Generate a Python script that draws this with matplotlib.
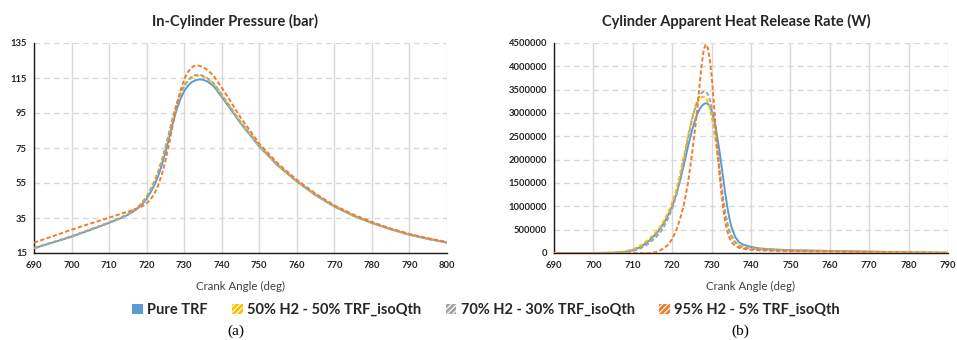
import matplotlib
matplotlib.use("Agg")
import matplotlib.pyplot as plt
from matplotlib.patches import Patch
from matplotlib.ticker import FuncFormatter

plt.rcParams['font.family'] = ['Lato', 'DejaVu Sans']
plt.rcParams['hatch.linewidth'] = 0.8

# ---------------- data ----------------
series_names = ["Pure TRF", "50% H2 - 50% TRF_isoQth",
                "70% H2 - 30% TRF_isoQth", "95% H2 - 5% TRF_isoQth"]
series_colors = ["#5B9BD5", "#FFC000", "#A5A5A5", "#ED7D31"]

# (a) in-cylinder pressure (bar)
p_angle = [690, 695, 700, 705, 710, 713, 715, 717, 718, 719, 720, 721, 722, 723, 724,
           725, 726, 727, 728, 729, 730, 731, 732, 733, 734, 735, 736, 737, 738, 740,
           742, 745, 750, 755, 760, 765, 770, 775, 780, 785, 790, 795, 800]
p_pure = [17.7, 21.0, 24.3, 28.2, 32.2, 34.8, 36.8, 39.5, 41.2, 43.3, 46.0, 49.5, 53.5, 58.5, 65.0,
          72.5, 81.0, 89.5, 97.0, 103.0, 107.5, 110.6, 112.6, 113.7, 114.2, 114.0, 113.2, 111.8, 110.0, 104.2,
          98.3, 89.2, 75.8, 64.8, 55.8, 48.0, 41.5, 36.3, 32.1, 28.5, 25.4, 23.0, 20.9]
p_h50 = [17.9, 21.2, 24.6, 28.5, 32.5, 35.2, 37.3, 40.2, 42.2, 44.6, 47.6, 51.5, 56.0, 61.5, 68.0,
         75.5, 84.0, 92.5, 100.0, 105.8, 110.2, 113.3, 115.2, 116.2, 116.3, 115.8, 114.8, 113.2, 111.2, 105.2,
         99.2, 89.8, 76.2, 65.1, 56.0, 48.2, 41.6, 36.4, 32.2, 28.6, 25.5, 23.1, 21.0]
p_h70 = [17.8, 21.1, 24.5, 28.4, 32.4, 35.0, 37.0, 39.8, 41.6, 43.9, 46.8, 50.6, 55.0, 60.5, 67.2,
         75.0, 83.8, 92.5, 100.2, 106.2, 110.7, 113.8, 115.8, 116.7, 116.8, 116.3, 115.2, 113.6, 111.6, 105.5,
         99.4, 90.0, 76.3, 65.2, 56.1, 48.3, 41.7, 36.5, 32.3, 28.7, 25.6, 23.1, 21.0]
p_h95 = [20.9, 24.6, 28.3, 31.8, 35.2, 37.3, 38.6, 40.1, 40.9, 41.9, 43.4, 45.5, 48.6, 53.2, 59.5,
         67.5, 77.5, 88.5, 99.5, 107.8, 114.2, 118.5, 121.1, 122.2, 122.0, 121.2, 119.8, 118.0, 115.8, 109.5,
         102.8, 92.5, 77.5, 66.0, 56.8, 48.9, 42.2, 37.0, 32.7, 29.0, 25.9, 23.4, 21.3]

# (b) apparent heat release rate (W)
h_angle = [690, 700, 705, 708, 710, 712, 714, 716, 717, 718, 719, 720, 721, 722, 723, 724, 725, 726,
           726.5, 727, 727.5, 728, 728.5, 729, 729.5, 730, 730.5, 731, 731.5, 732, 732.5, 733,
           733.5, 734, 734.5, 735, 736, 737, 738, 740, 742, 745, 750, 755, 760, 770, 780, 790]
h_pure = [0, 0, 5e3, 2.5e4, 6e4, 1.3e5, 2.5e5, 4.2e5, 5.3e5, 6.6e5, 8.2e5, 1.0e6, 1.25e6, 1.55e6, 1.9e6, 2.28e6, 2.62e6, 2.9e6,
          3.0e6, 3.09e6, 3.15e6, 3.19e6, 3.21e6, 3.2e6, 3.15e6, 3.05e6, 2.9e6, 2.7e6, 2.45e6, 2.18e6, 1.88e6, 1.57e6,
          1.26e6, 0.98e6, 0.75e6, 0.57e6, 0.34e6, 0.23e6, 0.18e6, 0.13e6, 0.10e6, 0.08e6, 0.06e6, 0.052e6, 0.045e6, 0.03e6, 0.015e6, 0.006e6]
h_h50 = [0, 0, 8e3, 3.5e4, 8e4, 1.6e5, 2.9e5, 4.6e5, 5.7e5, 7.1e5, 8.8e5, 1.08e6, 1.35e6, 1.7e6, 2.1e6, 2.5e6, 2.88e6, 3.15e6,
         3.24e6, 3.3e6, 3.34e6, 3.35e6, 3.32e6, 3.24e6, 3.1e6, 2.92e6, 2.68e6, 2.4e6, 2.08e6, 1.75e6, 1.42e6, 1.12e6,
         0.86e6, 0.65e6, 0.49e6, 0.38e6, 0.24e6, 0.17e6, 0.13e6, 0.10e6, 0.085e6, 0.07e6, 0.055e6, 0.048e6, 0.042e6, 0.028e6, 0.014e6, 0.005e6]
h_h70 = [0, 0, 3e3, 1.5e4, 4e4, 1e5, 2e5, 3.5e5, 4.5e5, 5.8e5, 7.5e5, 9.5e5, 1.22e6, 1.58e6, 2.0e6, 2.45e6, 2.85e6, 3.17e6,
         3.29e6, 3.38e6, 3.43e6, 3.46e6, 3.46e6, 3.41e6, 3.3e6, 3.12e6, 2.86e6, 2.55e6, 2.2e6, 1.82e6, 1.45e6, 1.12e6,
         0.84e6, 0.62e6, 0.46e6, 0.35e6, 0.22e6, 0.15e6, 0.12e6, 0.09e6, 0.075e6, 0.065e6, 0.052e6, 0.046e6, 0.04e6, 0.027e6, 0.013e6, 0.005e6]
h_h95 = [0, 0, 0, 0, 0, 0, 0, 2e4, 6e4, 1.1e5, 1.8e5, 3e5, 4.8e5, 7.3e5, 1.05e6, 1.5e6, 2.1e6, 2.8e6,
         3.2e6, 3.65e6, 4.05e6, 4.35e6, 4.47e6, 4.4e6, 4.17e6, 3.8e6, 3.3e6, 2.75e6, 2.2e6, 1.7e6, 1.27e6, 0.92e6,
         0.65e6, 0.46e6, 0.33e6, 0.24e6, 0.15e6, 0.11e6, 0.09e6, 0.07e6, 0.06e6, 0.05e6, 0.04e6, 0.035e6, 0.03e6, 0.02e6, 0.01e6, 0.004e6]

p_xticks = list(range(690, 801, 10))
p_yticks = list(range(15, 136, 20))
h_xticks = list(range(690, 791, 10))
h_yticks = list(range(0, 4500001, 500000))

titles = ["In-Cylinder Pressure (bar)", "Cylinder Apparent Heat Release Rate (W)"]
xlabel = "Crank Angle (deg)"
panel_labels = ["(a)", "(b)"]

# ---------------- figure ----------------
W, H = 957, 340
fig = plt.figure(figsize=(W / 100, H / 100), dpi=100)

def px_axes(x0, x1, y0, y1):
    return fig.add_axes([x0 / W, 1 - y1 / H, (x1 - x0) / W, (y1 - y0) / H])

ax1 = px_axes(34, 447, 43, 253)
ax2 = px_axes(554, 948, 43, 253)

grid_c = "#D9D9D9"
lw = 1.4
dash = (0, (2.2, 1.2))

def style(ax, xt, yt, title, title_x):
    ax.set_xlim(xt[0], xt[-1])
    ax.set_ylim(yt[0], yt[-1])
    ax.set_xticks(xt)
    ax.set_yticks(yt)
    ax.xaxis.grid(True, color=grid_c, lw=1.0, ls='-')
    ax.yaxis.grid(True, color=grid_c, lw=1.0, ls=(0, (4, 3)))
    ax.set_axisbelow(True)
    for s in ['top', 'right']:
        ax.spines[s].set_visible(False)
    for s in ['left', 'bottom']:
        ax.spines[s].set_color('#1a1a1a')
        ax.spines[s].set_linewidth(1.0)
    ax.tick_params(length=0, labelsize=6.8, colors='#262626')
    ax.tick_params(axis='y', pad=5)
    ax.tick_params(axis='x', pad=6)
    ax.set_xlabel(xlabel, fontsize=8.3, color='#404040', labelpad=8)
    ax.set_title(title, fontsize=10.5, fontweight='bold', color='#262626', pad=12, x=title_x)

p_series = [p_pure, p_h50, p_h70, p_h95]
h_series = [h_pure, h_h50, h_h70, h_h95]
for i, (ys, c) in enumerate(zip(p_series, series_colors)):
    ax1.plot(p_angle, ys, color=c, lw=lw, ls='-' if i == 0 else dash, zorder=3 + i)
for i, (ys, c) in enumerate(zip(h_series, series_colors)):
    ax2.plot(h_angle, ys, color=c, lw=lw, ls='-' if i == 0 else dash, zorder=3 + i)

style(ax1, p_xticks, p_yticks, titles[0], (235 - 34) / 413)
style(ax2, h_xticks, h_yticks, titles[1], (736 - 554) / 394)
ax2.yaxis.set_major_formatter(FuncFormatter(lambda v, p: f"{int(round(v))}"))
for ax in (ax1, ax2):
    for lab in ax.get_xticklabels() + ax.get_yticklabels():
        lab.set_fontweight('bold')

handles = []
for i, (n, c) in enumerate(zip(series_names, series_colors)):
    if i == 0:
        handles.append(Patch(facecolor=c, edgecolor=c, lw=0, label=n))
    else:
        handles.append(Patch(facecolor=c, edgecolor='white', hatch='//////', lw=0, label=n))
leg = fig.legend(handles=handles, loc='center', ncol=4, bbox_to_anchor=(486 / W, 1 - 310 / H),
                 frameon=False, handlelength=0.7, handleheight=0.7, handletextpad=0.3,
                 columnspacing=1.7, prop={'family': ['Lato', 'DejaVu Sans'], 'weight': 'bold', 'size': 10.5})
for t in leg.get_texts():
    t.set_color('#262626')

fig.text(236 / W, 1 - 331 / H, panel_labels[0], ha='center', va='center',
         fontsize=11, family=['Liberation Serif'])
fig.text(740 / W, 1 - 331 / H, panel_labels[1], ha='center', va='center',
         fontsize=11, family=['Liberation Serif'])

fig.savefig("out.png", dpi=100)
